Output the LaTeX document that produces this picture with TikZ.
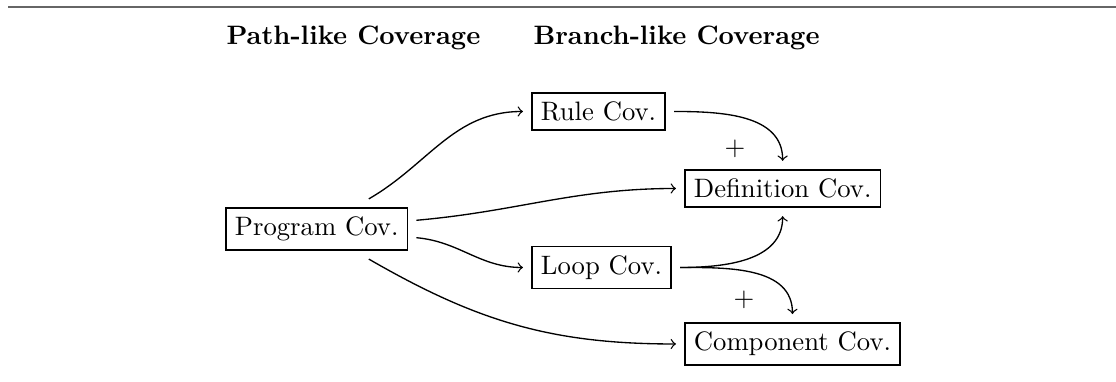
\documentclass[tikz,border=0pt]{standalone}
\begin{document}
\begin{tikzpicture}[x=0.375pt, y=-0.375pt,
  cov/.style={draw, line width=0.5pt, inner sep=3.33pt, outer sep=3.4pt, anchor=west},
  head/.style={font=\bfseries, inner sep=0pt, anchor=base west},
  flow/.style={->, line width=0.5pt}]
  \useasboundingbox (0,0) rectangle (1116,382);

  % rule across the top
  \coordinate (ruleL) at (8,7);
  \coordinate (ruleR) at (1116,7);
  \draw[black!60, line width=0.75pt] (ruleL) -- (ruleR);

  % column headings
  \node[head] (hpath) at (226,45) {Path-like Coverage};
  \node[head] (hbranch) at (533,45) {Branch-like Coverage};

  % coverage criteria
  \node[cov] (prog) at (217,229)   {Program Cov.};
  \node[cov] (rule) at (523,111.5) {Rule Cov.};
  \node[cov] (loop) at (523,267.5) {Loop Cov.};
  \node[cov] (defn) at (676,188.5) {Definition Cov.};
  \node[cov] (comp) at (676,344)   {Component Cov.};

  % subsumption relations
  \draw[flow] (prog) to[out=30, in=180] (rule);
  \draw[flow] (prog) to[out=5, in=180] (defn);
  \draw[flow] (prog) to[out=-5, in=180] (loop);
  \draw[flow] (prog) to[out=-30, in=180] (comp);
  \draw[flow] (rule) to[out=0, in=90] (defn);
  \draw[flow] (loop) to[out=0, in=-90] (defn);
  \draw[flow] (loop) to[out=0, in=90] (comp);

  % combined criteria
  \node (plusA) at (735,149) {$+$};
  \node (plusB) at (744,300) {$+$};
\end{tikzpicture}
\end{document}
